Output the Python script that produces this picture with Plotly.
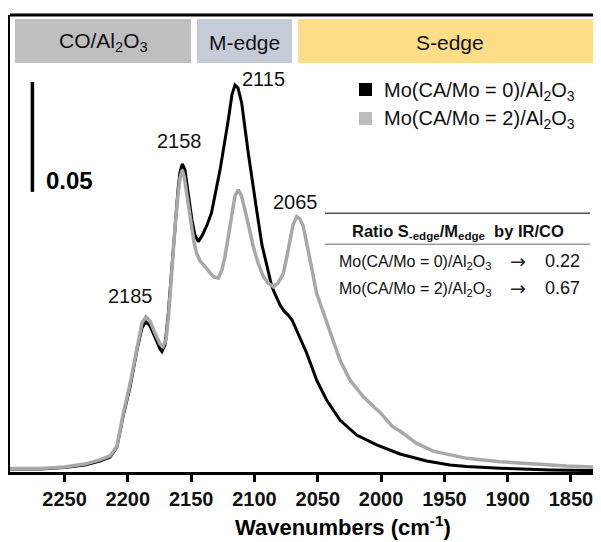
import plotly.graph_objects as go

# ---- data ----
wn_black = [2294, 2269, 2250, 2234, 2222, 2214, 2208.6, 2203.9, 2198.3, 2192.8, 2188.9, 2185.9,
            2182.5, 2178.6, 2174.6, 2173.1, 2170.7, 2168.3, 2165.4, 2162.8, 2160.4, 2158.8, 2157.0,
            2154.9, 2152.5, 2149.4, 2147.0, 2144.4, 2141.5, 2137.8, 2134.0, 2131.2, 2127.2, 2120.7,
            2117.8, 2115.4, 2113.0, 2110.1, 2104.9, 2098.3, 2094.1, 2090.9, 2086.4, 2083.8, 2079.8,
            2076.7, 2073.5, 2070.3, 2066.7, 2063.3, 2058.8, 2050.9, 2043.0, 2032.5, 2019.3, 2003.5,
            1985.1, 1964.0, 1945.6, 1932.4, 1906.1, 1866.6, 1826.3, 1815]
abs_black = [0.0014, 0.0014, 0.0020, 0.0032, 0.0050, 0.0068, 0.0114, 0.0250, 0.0386, 0.0555, 0.0655, 0.0683,
             0.0664, 0.0609, 0.0559, 0.0547, 0.0577, 0.0706, 0.0933, 0.1115, 0.1282, 0.1364, 0.1400,
             0.1373, 0.1282, 0.1145, 0.1077, 0.1047, 0.1073, 0.1118, 0.1177, 0.1255, 0.1373, 0.1600,
             0.1714, 0.1759, 0.1745, 0.1677, 0.1450, 0.1191, 0.1032, 0.0955, 0.0845, 0.0809, 0.0759,
             0.0732, 0.0714, 0.0691, 0.0645, 0.0600, 0.0541, 0.0418, 0.0327, 0.0236, 0.0168, 0.0123,
             0.0082, 0.0050, 0.0032, 0.0025, 0.0017, 0.0009, 0.0006, 0.0005]

wn_gray = [2294, 2269, 2250, 2234, 2222, 2214, 2208.6, 2203.9, 2198.3, 2192.8, 2188.9, 2185.7,
           2182.5, 2178.6, 2174.6, 2172.3, 2169.9, 2167.9, 2165.2, 2162.8, 2160.4, 2158.8, 2157.0,
           2155.3, 2153.6, 2151.7, 2149.6, 2147.8, 2145.7, 2143.0, 2140.7, 2137.8, 2135.1, 2132.5,
           2128.6, 2125.7, 2123.3, 2120.9, 2118.0, 2115.4, 2112.8, 2110.3, 2107.5, 2104.3, 2100.9,
           2097.2, 2093.0, 2089.3, 2085.1, 2081.4, 2077.2, 2074.3, 2071.9, 2069.6, 2066.7, 2064.0,
           2061.4, 2058.8, 2056.1, 2050.9, 2048.3, 2040.4, 2032.5, 2024.6, 2014.0, 2004.8, 2000.9,
           1995.6, 1990.6, 1985.1, 1971.9, 1958.8, 1945.6, 1932.4, 1906.1, 1879.8, 1853.4, 1826.3, 1815]
abs_gray = [0.0016, 0.0016, 0.0023, 0.0036, 0.0055, 0.0073, 0.0118, 0.0259, 0.0400, 0.0573, 0.0677, 0.0705,
            0.0686, 0.0632, 0.0582, 0.0570, 0.0600, 0.0709, 0.0936, 0.1109, 0.1259, 0.1336, 0.1373,
            0.1336, 0.1268, 0.1191, 0.1115, 0.1045, 0.0995, 0.0959, 0.0945, 0.0926, 0.0905, 0.0888,
            0.0881, 0.0918, 0.0979, 0.1068, 0.1176, 0.1255, 0.1282, 0.1255, 0.1191, 0.1109, 0.1024,
            0.0950, 0.0888, 0.0859, 0.0842, 0.0859, 0.0903, 0.0982, 0.1055, 0.1123, 0.1161, 0.1150,
            0.1115, 0.1045, 0.0964, 0.0812, 0.0768, 0.0632, 0.0509, 0.0418, 0.0342, 0.0291, 0.0272,
            0.0236, 0.0205, 0.0186, 0.0130, 0.0095, 0.0077, 0.0062, 0.0047, 0.0036, 0.0027, 0.0021, 0.0019]

x_ticks = [2250, 2200, 2150, 2100, 2050, 2000, 1950, 1900, 1850]
x_range = [2293.1, 1826.3]
y_range = [0, 0.2077]

series_names = ["Mo(CA/Mo = 0)/Al<sub>2</sub>O<sub>3</sub>", "Mo(CA/Mo = 2)/Al<sub>2</sub>O<sub>3</sub>"]
ratio_values = ["0.22", "0.67"]
peak_labels = ["2185", "2158", "2115", "2065"]
band_labels = ["CO/Al<sub>2</sub>O<sub>3</sub>", "M-edge", "S-edge"]
scale_bar_value = 0.05
scale_bar_base = 0.1273
scale_bar_x = 2275.4

BLACK = "#000000"
GRAY = "#a8a8a8"
FONT = "Liberation Sans, Arial, sans-serif"

fig = go.Figure()
fig.add_trace(go.Scatter(x=wn_black, y=abs_black, mode="lines", name=series_names[0],
                         line=dict(color=BLACK, width=3), showlegend=False))
fig.add_trace(go.Scatter(x=wn_gray, y=abs_gray, mode="lines", name=series_names[1],
                         line=dict(color=GRAY, width=3.5), showlegend=False))

# page body has an 8px margin: figure is sized to fit inside the 601x542 window
OFF = 8
W, H = 601 - OFF, 542 - OFF
L, R, T, B = 10 - OFF, 0, 15 - OFF, 70
pw, ph = W - L - R, H - T - B


def px(x):
    return (x - OFF - L) / pw


def py(y):
    return (H - B - (y - OFF)) / ph


shapes = []
annotations = []

# top bands
bands = [(15, 191, "#bfbfbf"), (197, 292, "#c5ccd8"), (298, 601, "#fddd85")]
for (x0, x1, col), lab in zip(bands, band_labels):
    shapes.append(dict(type="rect", xref="paper", yref="paper", x0=px(x0), x1=px(x1),
                       y0=py(63), y1=py(19), fillcolor=col, line=dict(width=0), layer="below"))
    annotations.append(dict(xref="paper", yref="paper", x=px((x0 + x1) / 2), y=py(42), text=lab,
                            showarrow=False, font=dict(size=21, color="#111", family=FONT),
                            xanchor="center", yanchor="middle"))

# top frame line
shapes.append(dict(type="line", xref="paper", yref="paper", x0=0, x1=1, y0=1, y1=1,
                   line=dict(color="black", width=3)))

# scale bar
shapes.append(dict(type="line", xref="x", yref="y", x0=scale_bar_x, x1=scale_bar_x,
                   y0=scale_bar_base, y1=scale_bar_base + scale_bar_value,
                   line=dict(color="black", width=3.5)))
annotations.append(dict(xref="paper", yref="paper", x=px(44), y=py(181), text="<b>0.05</b>",
                        showarrow=False, xanchor="left", yanchor="middle",
                        font=dict(size=24, color="black", family=FONT)))

# peak labels
peak_pos = [(130, 296), (179, 141), (263, 79), (295, 201.5)]
for lab, (x, y) in zip(peak_labels, peak_pos):
    annotations.append(dict(xref="paper", yref="paper", x=px(x), y=py(y), text=lab, showarrow=False,
                            xanchor="center", yanchor="middle",
                            font=dict(size=20, color="#111", family=FONT)))

# legend
leg = [(BLACK, 83, 91), ("#bdbdbd", 112, 120)]
for (col, sy, ty), name in zip(leg, series_names):
    shapes.append(dict(type="rect", xref="paper", yref="paper", x0=px(359), x1=px(372),
                       y0=py(sy + 13), y1=py(sy), fillcolor=col, line=dict(width=0)))
    annotations.append(dict(xref="paper", yref="paper", x=px(382), y=py(ty), text=name, showarrow=False,
                            xanchor="left", yanchor="middle",
                            font=dict(size=20, color="#111", family=FONT)))

# ratio table
shapes.append(dict(type="line", xref="paper", yref="paper", x0=px(325), x1=px(590), y0=py(213.3), y1=py(213.3),
                   line=dict(color="#555", width=1.5)))
shapes.append(dict(type="line", xref="paper", yref="paper", x0=px(325), x1=px(590), y0=py(244.3), y1=py(244.3),
                   line=dict(color="#999", width=1.5)))
annotations.append(dict(xref="paper", yref="paper", x=px(458), y=py(232),
                        text="<b>Ratio S<sub>-edge</sub>/M<sub>edge</sub>  by IR/CO</b>", showarrow=False,
                        xanchor="center", yanchor="middle", font=dict(size=16.5, color="#111", family=FONT)))
for name, val, y in zip(series_names, ratio_values, [262, 289]):
    annotations.append(dict(xref="paper", yref="paper", x=px(337), y=py(y), text=name, showarrow=False,
                            xanchor="left", yanchor="middle", font=dict(size=16, color="#111", family=FONT)))
    annotations.append(dict(xref="paper", yref="paper", x=px(518), y=py(y - 1), text="\u2192", showarrow=False,
                            xanchor="center", yanchor="middle",
                            font=dict(size=19, color="#222", family="DejaVu Sans, sans-serif")))
    annotations.append(dict(xref="paper", yref="paper", x=px(543), y=py(y - 1), text=val, showarrow=False,
                            xanchor="left", yanchor="middle", font=dict(size=18, color="#111", family=FONT)))

# x axis title
annotations.append(dict(xref="paper", yref="paper", x=px(343), y=py(526), text="<b>Wavenumbers (cm<sup>-1</sup>)</b>",
                        showarrow=False, xanchor="center", yanchor="middle",
                        font=dict(size=22, color="black", family=FONT)))

fig.update_layout(
    width=W, height=H,
    margin=dict(l=L, r=R, t=T, b=B, pad=0),
    paper_bgcolor="white", plot_bgcolor="white",
    shapes=shapes, annotations=annotations,
    xaxis=dict(range=x_range, tickvals=x_ticks, ticktext=[str(t) for t in x_ticks],
               ticks="outside", ticklen=7, tickwidth=2.5, tickcolor="black",
               showline=True, linecolor="black", linewidth=3, showgrid=False, zeroline=False,
               tickfont=dict(size=20, color="#111", family=FONT, weight="bold")),
    yaxis=dict(range=y_range, showticklabels=False, ticks="", showline=True, linecolor="black",
               linewidth=3, showgrid=False, zeroline=False),
)

fig.write_html("out.html")
